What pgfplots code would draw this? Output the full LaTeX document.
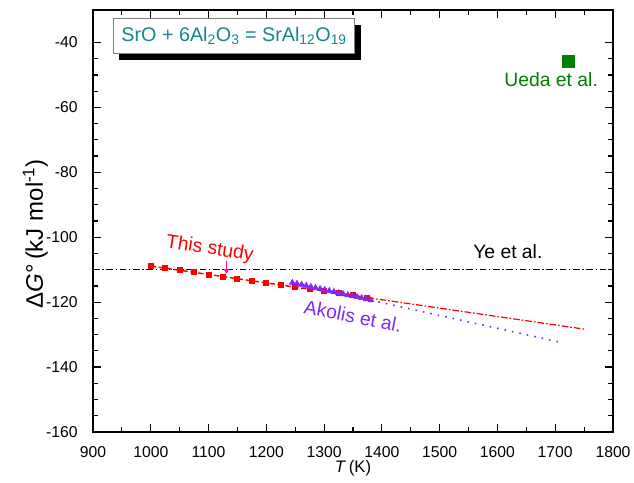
\documentclass[border=0pt]{standalone}
\usepackage{fontspec}
\setmainfont{Liberation Sans}
\usepackage{pgfplots}
\pgfplotsset{compat=1.18}
\usetikzlibrary{shadows}
\definecolor{ared}{RGB}{255,0,0}
\definecolor{apurple}{RGB}{130,40,250}
\definecolor{apink}{RGB}{255,20,147}
\definecolor{agreen}{RGB}{0,128,0}
\definecolor{ateal}{RGB}{20,135,140}

\pgfplotstableread{
T G
1000 -108.9
1025 -109.5
1050 -110.2
1075 -110.8
1100 -111.5
1125 -112.1
1150 -112.8
1175 -113.4
1200 -114.1
1225 -114.7
1250 -115.4
1275 -116.0
1300 -116.6
1325 -117.3
1350 -117.9
1375 -118.6
}\thisstudy

\pgfplotstableread{
T G
1245 -114.0
1253 -114.3
1261 -114.6
1269 -114.9
1277 -115.3
1285 -115.6
1293 -115.9
1301 -116.2
1309 -116.5
1317 -116.8
1325 -117.2
1333 -117.5
1341 -117.8
1349 -118.1
1357 -118.4
1365 -118.7
1373 -119.1
1381 -119.4
}\akolis

\begin{document}
\begin{tikzpicture}
\begin{axis}[
  scale only axis, width=390pt, height=316.5pt,
  xmin=900, xmax=1800, ymin=-160, ymax=-30,
  xtick={900,1000,...,1800}, ytick={-160,-140,...,-40},
  minor x tick num=1, minor y tick num=3,
  tick align=inside, tick pos=both,
  major tick length=6pt, minor tick length=3.5pt,
  axis line style={line width=1.2pt},
  every tick/.style={line width=0.9pt, black},
  tick label style={font=\fontsize{11.8}{13}\selectfont},
  xticklabel style={yshift=-7pt},
  yticklabel style={xshift=-8pt},
  /pgf/number format/assume math mode=true,
  /pgf/number format/set thousands separator={},
  xlabel={\textit{T}\,(K)},
  ylabel={Δ\textit{G}°\,(kJ mol\textsuperscript{-1})},
  xlabel style={font=\fontsize{12.5}{14}\selectfont, at={(axis description cs:0.5,-0.085)}, anchor=center},
  ylabel style={font=\fontsize{18}{20}\selectfont, at={(axis description cs:-0.111,0.47)}, anchor=center},
  clip=false,
]
\addplot[black, line width=0.6pt, dash pattern=on 5pt off 2pt on 1pt off 2pt] coordinates {(900,-110) (1800,-110)};
\addplot[ared, line width=0.9pt, dash pattern=on 5pt off 1.5pt on 1.2pt off 1.5pt] coordinates {(1375,-118.6) (1750,-128.3)};
\addplot[apurple, line width=1.2pt, dash pattern=on 1.2pt off 4.5pt] coordinates {(1381,-119.4) (1710,-132.4)};
\addplot[ared, line width=1.1pt, dash pattern=on 4pt off 2pt, mark=square*, mark size=1.7pt, mark options={solid}] table[x=T, y=G] {\thisstudy};
\addplot[apurple, only marks, mark=triangle*, mark size=2.6pt] table[x=T, y=G] {\akolis};
\addplot[apink, line width=0.8pt] coordinates {(1131,-107.3) (1131,-110.3)};
\addplot[apink, only marks, mark=triangle*, mark size=2pt, mark options={rotate=180}] coordinates {(1131,-110.3)};
\addplot[agreen, only marks, mark=square*, mark size=4.4pt] coordinates {(1722,-45.9)};

\node[ared, rotate=-9, font=\fontsize{14.5}{16}\selectfont] at (axis cs:1102,-103.7) {This study};
\node[apurple, rotate=-11, font=\fontsize{14.5}{16}\selectfont] at (axis cs:1350,-124.3) {Akolis et al.};
\node[black, font=\fontsize{14.5}{16}\selectfont] at (axis cs:1618,-104.5) {Ye et al.};
\node[agreen, font=\fontsize{14.5}{16}\selectfont] at (axis cs:1693,-51.3) {Ueda et al.};
\node[draw=gray, line width=0.6pt, fill=white, text=ateal, minimum width=181pt, minimum height=26.5pt, inner sep=0pt,
      drop shadow={shadow xshift=4.5pt, shadow yshift=-5pt, fill=black, opacity=1},
      font=\fontsize{14.8}{17}\selectfont] at (axis cs:1144.3,-37.95)
      {SrO + 6Al\textsubscript{2}O\textsubscript{3} = SrAl\textsubscript{12}O\textsubscript{19}};
\end{axis}
\pgfresetboundingbox
\path[use as bounding box] ([shift={(-69.75pt,-37.5pt)}]current axis.south west) rectangle ([shift={(15.75pt,7.5pt)}]current axis.north east);
\end{tikzpicture}
\end{document}
